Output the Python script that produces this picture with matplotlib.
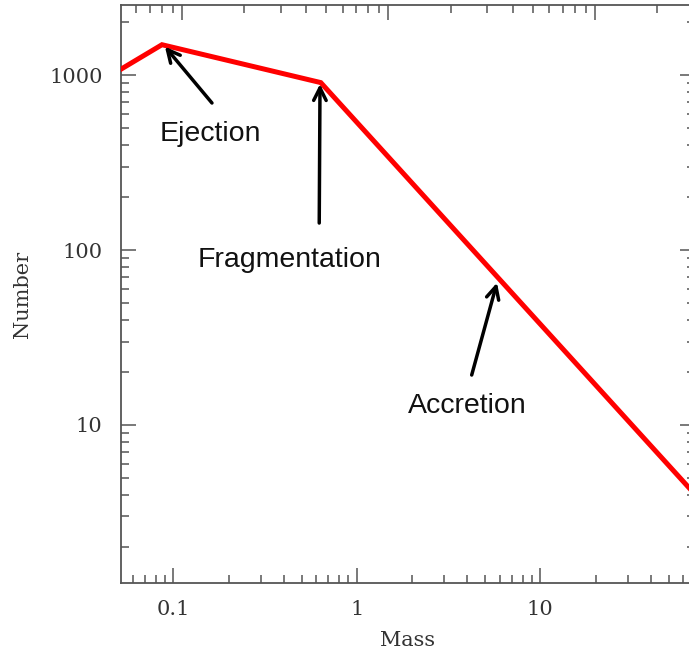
import matplotlib
matplotlib.use("Agg")
import matplotlib.pyplot as plt
from matplotlib.ticker import LogLocator, FixedLocator, FixedFormatter, NullFormatter

# ---- data ----
mass = [0.05, 0.08, 0.47, 30.0]
number = [1070, 1490, 905, 4.1]

bottom_ticks = [0.1, 1, 10]
bottom_labels = ["0.1", "1", "10"]
y_ticks = [10, 100, 1000]
y_labels = ["10", "100", "1000"]

annot_text = ["Ejection", "Fragmentation", "Accretion"]
annot_text_xy = [(0.1366, 420), (0.3316, 80.0), (2.413, 11.7)]
annot_head = [(0.0827, 1452), (0.466, 888), (3.353, 65.0)]
annot_tail = [(0.1397, 692), (0.462, 142.6), (2.529, 19.3)]

top_xlim = (0.0505, 30.5)
bottom_xlim = (0.0516, 69.7)
ylim = (1.25, 2512)

# ---- figure ----
fig = plt.figure(figsize=(6.89, 6.52), dpi=100)
ax = fig.add_axes([0.1752, 0.1058, 1.0087 - 0.1752, 0.9923 - 0.1058])
ax.set_xscale("log")
ax.set_yscale("log")
ax.set_xlim(*bottom_xlim)
ax.set_ylim(*ylim)

spine_col = "#555555"
for s in ax.spines.values():
    s.set_color(spine_col)
    s.set_linewidth(1.3)

serif = "DejaVu Serif"
ax.xaxis.set_major_locator(FixedLocator(bottom_ticks))
ax.xaxis.set_major_formatter(FixedFormatter(bottom_labels))
ax.xaxis.set_minor_locator(LogLocator(base=10, subs=range(2, 10), numticks=20))
ax.xaxis.set_minor_formatter(NullFormatter())
ax.yaxis.set_major_locator(FixedLocator(y_ticks))
ax.yaxis.set_major_formatter(FixedFormatter(y_labels))
ax.yaxis.set_minor_locator(LogLocator(base=10, subs=range(2, 10), numticks=20))
ax.yaxis.set_minor_formatter(NullFormatter())

ax.tick_params(which="both", direction="in", color=spine_col, width=1.1,
               top=False, right=True, labelsize=15, labelcolor="#333333")
ax.tick_params(which="major", length=11)
ax.tick_params(which="minor", length=6)
ax.tick_params(axis="x", pad=12)
ax.tick_params(axis="y", pad=13)
for lab in ax.get_xticklabels() + ax.get_yticklabels():
    lab.set_family(serif)

ax.set_xlabel("Mass", family=serif, fontsize=15, color="#333333", labelpad=9)
ax.set_ylabel("Number", family=serif, fontsize=15, color="#333333", labelpad=12)

# top axis with its own scaling (line plotted here)
ax2 = ax.twiny()
ax2.set_xscale("log")
ax2.set_xlim(*top_xlim)
ax2.set_ylim(*ylim)
ax2.xaxis.set_major_locator(LogLocator(base=10, numticks=10))
ax2.xaxis.set_minor_locator(LogLocator(base=10, subs=range(2, 10), numticks=20))
ax2.xaxis.set_major_formatter(NullFormatter())
ax2.xaxis.set_minor_formatter(NullFormatter())
ax2.tick_params(which="both", direction="in", color=spine_col, width=1.1,
                top=True, bottom=False, labeltop=False)
ax2.tick_params(which="major", length=11)
ax2.tick_params(which="minor", length=6)
for s in ax2.spines.values():
    s.set_visible(False)

ax2.plot(mass, number, color="#ff0000", lw=3.6, solid_joinstyle="miter",
         clip_on=True, zorder=3)

for txt, txy, head, tail in zip(annot_text, annot_text_xy, annot_head, annot_tail):
    ax2.annotate("", xy=head, xytext=tail,
                 arrowprops=dict(arrowstyle="->,head_length=0.9,head_width=0.45",
                                 lw=2.5, color="black", shrinkA=0, shrinkB=0),
                 zorder=4)
    ax2.text(txy[0], txy[1], txt, ha="center", va="baseline",
             family="Liberation Sans", fontsize=20.5, color="#111111", zorder=4)

fig.savefig("out.png", dpi=100)
